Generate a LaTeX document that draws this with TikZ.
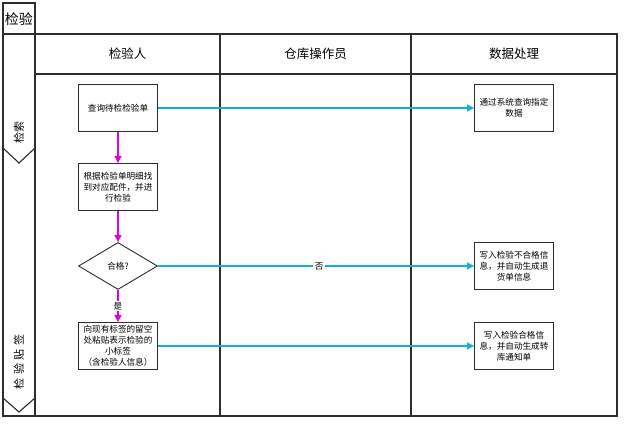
\documentclass[tikz,border=0pt]{standalone}
\usepackage{fontspec}
\setmainfont{Noto Sans CJK SC}
\usetikzlibrary{shapes, shapes.geometric, arrows.meta, positioning}
\definecolor{lanegray}{RGB}{45, 45, 45}
\definecolor{flowcyan}{RGB}{20, 175, 225}
\definecolor{flowmagenta}{RGB}{225, 0, 225}

\tikzset{
  lane/.style={draw=lanegray, line width=1.1pt},
  procbox/.style={draw=lanegray, line width=0.9pt, minimum width=79pt, minimum height=47pt, inner sep=1pt, align=center, font=\fontsize{8.6}{11}\selectfont},
  decision/.style={draw=lanegray, line width=0.9pt, diamond, minimum width=79pt, minimum height=47pt, inner sep=0pt, font=\fontsize{8.6}{10}\selectfont},
  header/.style={font=\fontsize{12.5}{14}\selectfont},
  phase/.style={rotate=90, font=\fontsize{11}{13}\selectfont},
  nextstep/.style={draw=flowmagenta, line width=1.2pt, -{Triangle[length=7pt, width=7pt]}},
  tosystem/.style={draw=flowcyan, line width=1.2pt, -{Triangle[length=7pt, width=7pt]}},
  onlabel/.style={fill=white, inner sep=1.5pt, font=\fontsize{8.6}{10}\selectfont}
}

\begin{document}
\begin{tikzpicture}[x=1pt, y=-1pt]
  \useasboundingbox[fill=white] (0,0) rectangle (640,425);

  % frame and lanes
  \draw[lane] (3,3) rectangle (35,34);
  \node[font=\fontsize{14}{16}\selectfont] (title) at (19,19) {检验};
  \draw[lane] (3,34) rectangle (617,416);
  \draw[lane] (35,34) -- (35,416);
  \draw[lane] (35,74) -- (617,74);
  \draw[lane] (220,34) -- (220,416);
  \draw[lane] (411,34) -- (411,416);
  \draw[lane] (3,148) -- (19,163) -- (35,148);
  \draw[lane] (3,398) -- (19,412) -- (35,398);

  \node[header] (inspector) at (127.5,54) {检验人};
  \node[header] (keeper) at (315.5,54) {仓库操作员};
  \node[header] (dataproc) at (514,54) {数据处理};
  \node[phase] (search) at (19,132) {检索};
  \node[phase] (labeling) at (19,362) {\addfontfeature{LetterSpace=35}检验贴签};

  % inspector lane
  \node[procbox] (ask) at (118,108) {查询待检检验单};
  \node[procbox] (check) at (118,187) {根据检验单明细找\\到对应配件，并进\\行检验};
  \node[decision] (pass) at (118,266) {合格?};
  \node[procbox] (stick) at (118,346) {向现有标签的留空\\处粘贴表示检验的\\小标签\\（含检验人信息）};

  % data lane
  \node[procbox] (query) at (514,108) {通过系统查询指定\\数据};
  \node[procbox] (writebad) at (514,266) {写入检验不合格信\\息，并自动生成退\\货单信息};
  \node[procbox] (writegood) at (514,346) {写入检验合格信\\息，并自动生成转\\库通知单};

  % flow
  \draw[nextstep] (ask) -- (check);
  \draw[nextstep] (check) -- (pass);
  \draw[nextstep] (pass) -- node[onlabel] (yes) {是} (stick);
  \draw[tosystem] (ask) -- (query);
  \draw[tosystem] (pass) -- node[onlabel, pos=0.51] (no) {否} (writebad);
  \draw[tosystem] (stick) -- (writegood);
\end{tikzpicture}
\end{document}
